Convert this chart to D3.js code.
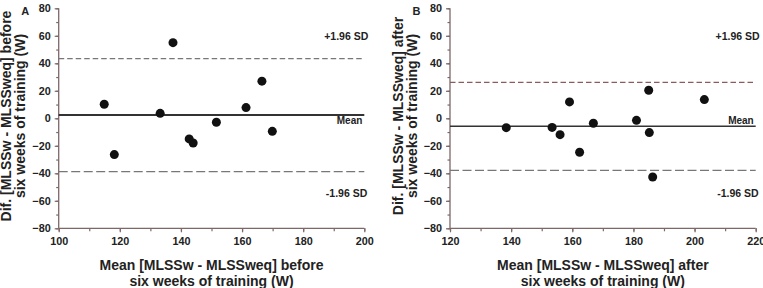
<!DOCTYPE html>
<html>
<head>
<meta charset="utf-8">
<script src="https://cdn.jsdelivr.net/npm/d3@7"></script>
<style>
	body { margin: 0; background: #fff; }
	text { font-family: "Liberation Sans", Arial, sans-serif; font-weight: bold; fill: #222; }
</style>
</head>
<body>
<div id="vizHolder"></div>
<script>
var	width = 763,
		height = 288;

// panel A: before training
var beforeMean = [114.9, 118.2, 133.2, 137.4, 142.7, 144.0, 151.6, 161.3, 166.5, 169.9];
var beforeDiff = [10.2, -26.4, 3.6, 55.0, -15.0, -18.0, -2.9, 7.8, 27.0, -9.5];
var beforeLimits = [2.4, 43.4, -38.8]; // mean, +1.96 SD, -1.96 SD

// panel B: after training
var afterMean = [138.4, 153.4, 156.0, 159.1, 162.4, 166.9, 181.0, 185.0, 185.2, 186.3, 203.2];
var afterDiff = [-6.8, -6.6, -11.9, 11.9, -24.7, -3.6, -1.5, 20.4, -10.4, -42.7, 13.6];
var afterLimits = [-5.8, 26.2, -37.8];

// tick labels
var xTicksA = [100, 120, 140, 160, 180, 200];
var xTicksB = [120, 140, 160, 180, 200, 220];
var yTicks = [-80, -60, -40, -20, 0, 20, 40, 60, 80];

var svg = d3.select('#vizHolder')
	.append('svg')
	.attr('width', width)
	.attr('height', height);

function drawPanel(opt) {
	var xScale = d3.scaleLinear()
		.domain([opt.xTicks[0], opt.xTicks[opt.xTicks.length - 1]])
		.range([opt.left, opt.right]);

	var yScale = d3.scaleLinear()
		.domain([-80, 80])
		.range([228.3, 8.3]);

	var g = svg.append('g');

	// minor ticks first, then the real axes on top
	var xMinor = d3.range(opt.xTicks[0], opt.xTicks[opt.xTicks.length - 1] + 1, 10);
	var yMinor = d3.range(-80, 81, 10);

	g.append('g')
		.attr('transform', 'translate(0,' + yScale(-80) + ')')
		.call(d3.axisBottom(xScale).tickValues(xMinor).tickSize(3).tickFormat(''));
	g.append('g')
		.attr('transform', 'translate(' + opt.left + ',0)')
		.call(d3.axisLeft(yScale).tickValues(yMinor).tickSize(2.5).tickFormat(''));

	g.append('g')
		.attr('transform', 'translate(0,' + yScale(-80) + ')')
		.call(d3.axisBottom(xScale).tickValues(opt.xTicks).tickSize(4).tickPadding(5));
	g.append('g')
		.attr('transform', 'translate(' + opt.left + ',0)')
		.call(d3.axisLeft(yScale).tickValues(yTicks).tickSize(4).tickPadding(4));

	// plain axis lines instead of the d3 domain paths
	g.selectAll('path.domain').remove();
	g.selectAll('.tick line')
		.attr('stroke', '#7d6868')
		.attr('stroke-width', 1.2);

	g.append('line')
		.attr('x1', opt.left).attr('x2', opt.right)
		.attr('y1', yScale(-80)).attr('y2', yScale(-80))
		.attr('stroke', '#7d6868').attr('stroke-width', 1.3);
	g.append('line')
		.attr('x1', opt.left).attr('x2', opt.left)
		.attr('y1', yScale(-80)).attr('y2', yScale(80))
		.attr('stroke', '#7d6868').attr('stroke-width', 1.3);

	g.selectAll('.tick text')
		.style('font-size', '10.8px')
		.attr('fill', '#222');

	// mean and limits of agreement
	g.append('line')
		.attr('x1', opt.left).attr('x2', opt.right)
		.attr('y1', yScale(opt.limits[0])).attr('y2', yScale(opt.limits[0]))
		.attr('stroke', '#333').attr('stroke-width', opt.meanWidth);
	g.append('line')
		.attr('x1', opt.left).attr('x2', opt.right)
		.attr('y1', yScale(opt.limits[1])).attr('y2', yScale(opt.limits[1]))
		.attr('stroke', opt.upperColor).attr('stroke-width', 1.3)
		.attr('stroke-dasharray', '5.5,3');
	g.append('line')
		.attr('x1', opt.left).attr('x2', opt.right)
		.attr('y1', yScale(opt.limits[2])).attr('y2', yScale(opt.limits[2]))
		.attr('stroke', '#777').attr('stroke-width', 1.3)
		.attr('stroke-dasharray', '9,3.5');

	g.selectAll('circle')
		.data(opt.xs)
		.enter()
		.append('circle')
		.attr('cx', function(d) { return xScale(d); })
		.attr('cy', function(d, i) { return yScale(opt.ys[i]); })
		.attr('r', 4.5)
		.attr('fill', '#111');

	// labels
	g.append('text').attr('x', opt.right + 4).attr('y', 39.5)
		.attr('text-anchor', 'end').style('font-size', '10.5px').text('+1.96 SD');
	g.append('text').attr('x', opt.right - 2).attr('y', 123.5)
		.attr('text-anchor', 'end').style('font-size', '10px').text('Mean');
	g.append('text').attr('x', opt.right + 3).attr('y', 197)
		.attr('text-anchor', 'end').style('font-size', '10.5px').text('-1.96 SD');
	g.append('text').attr('x', opt.left - 37.5).attr('y', 15)
		.style('font-size', '11px').text(opt.letter);

	var cx = (opt.left + opt.right) / 2;
	g.append('text').attr('x', cx).attr('y', 270)
		.attr('text-anchor', 'middle').style('font-size', '14px').text(opt.xTitle[0]);
	g.append('text').attr('x', cx).attr('y', 286)
		.attr('text-anchor', 'middle').style('font-size', '14px').text(opt.xTitle[1]);

	var yt = g.append('text')
		.attr('transform', 'translate(' + (opt.left - 47.5) + ',116) rotate(-90)')
		.attr('text-anchor', 'middle').style('font-size', '14px');
	yt.append('tspan').attr('x', 0).attr('y', 0).text(opt.yTitle[0]);
	yt.append('tspan').attr('x', 0).attr('y', 14).text(opt.yTitle[1]);
}

drawPanel({
	left: 58.7, right: 364.3, letter: 'A',
	xTicks: xTicksA, xs: beforeMean, ys: beforeDiff, limits: beforeLimits,
	meanWidth: 2, upperColor: '#777',
	xTitle: ['Mean [MLSSw - MLSSweq] before', 'six weeks of training (W)'],
	yTitle: ['Dif. [MLSSw - MLSSweq] before', 'six weeks of training (W)']
});

drawPanel({
	left: 450, right: 755.7, letter: 'B',
	xTicks: xTicksB, xs: afterMean, ys: afterDiff, limits: afterLimits,
	meanWidth: 1.6, upperColor: '#8a5c5c',
	xTitle: ['Mean [MLSSw - MLSSweq] after', 'six weeks of training (W)'],
	yTitle: ['Dif. [MLSSw - MLSSweq] after', 'six weeks of training (W)']
});
</script>
</body>
</html>
